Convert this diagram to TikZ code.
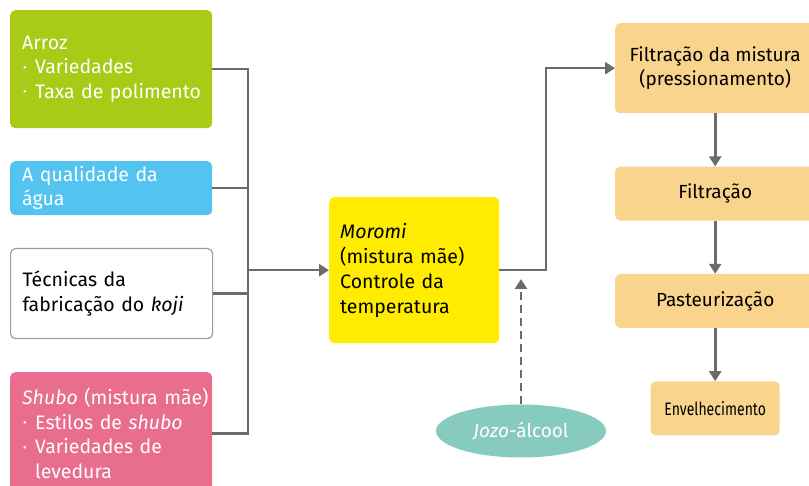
\documentclass[tikz,border=0pt]{standalone}
\usepackage{fontspec}
\setmainfont{Fira Sans}
\usetikzlibrary{arrows.meta,positioning,shapes.geometric}

\definecolor{arrozgreen}{HTML}{A9CA16}
\definecolor{aguablue}{HTML}{53C4EF}
\definecolor{shubopink}{HTML}{E96D8C}
\definecolor{moromiyellow}{HTML}{FFEC00}
\definecolor{stagepeach}{HTML}{F9D48C}
\definecolor{jozoteal}{HTML}{87CABE}
\definecolor{linegray}{HTML}{6B6B6B}
\definecolor{bordergray}{HTML}{9C9C9C}

\newcommand{\dotitem}{\makebox[13pt][l]{\hspace{1pt}\raisebox{2.5pt}{\scalebox{0.55}{•}}}}

\begin{document}
\begin{tikzpicture}
            [x=1pt, y=-1pt, >={Triangle[length=10pt,width=12pt]}, node distance=53pt,
            link/.style={draw=linegray, line width=2.6pt},
            inbox/.style={rectangle, rounded corners=5pt, anchor=north west, align=left,
              minimum width=202pt, text width=178pt, inner xsep=12pt, inner ysep=0pt,
              font=\fontsize{19.5}{24.5}\selectfont},
            stagebox/.style={rectangle, rounded corners=5pt, fill=stagepeach, align=center,
              minimum width=200pt, minimum height=54pt, inner sep=0pt,
              font=\fontsize{19}{24}\selectfont}]

            \useasboundingbox (0,0) rectangle (809,486);

            % ingredientes
            \node[inbox, fill=arrozgreen, text=white, minimum height=118pt] (arroz) at (10,10)
              {Arroz\\\dotitem Variedades\\\mbox{\dotitem Taxa de polimento}};
            \node[inbox, fill=aguablue, text=white, minimum height=54pt] (agua) at (10,161)
              {A qualidade da\\água};
            \node[inbox, fill=white, draw=bordergray, line width=1.2pt, minimum height=90pt] (koji) at (10,248)
              {Técnicas da\\fabricação do \textit{koji}};
            \node[inbox, fill=shubopink, text=white, minimum height=122pt] (shubo) at (10,372)
              {\mbox{\textit{Shubo} (mistura mãe)}\\\dotitem Estilos de \textit{shubo}\\\dotitem Variedades de\\\hspace*{13pt}levedura};

            \node[rectangle, rounded corners=5pt, fill=moromiyellow, anchor=north west, align=left,
              minimum width=170pt, minimum height=146pt, text width=148pt, inner xsep=11pt,
              font=\fontsize{19.5}{25}\selectfont] (moromi) at (329,197)
              {\textit{Moromi}\\(mistura mãe)\\Controle da\\temperatura};

            \node[ellipse, fill=jozoteal, text=white, minimum width=170pt, minimum height=53pt,
              font=\fontsize{19}{24}\selectfont] (jozo) at (521,431) {\textit{Jozo}-álcool};

            % etapas
            \node[stagebox, anchor=north west, minimum height=90pt] (filtmist) at (615,23)
              {Filtração da mistura\\(pressionamento)};
            \node[stagebox] (filtracao) [below = of filtmist] {Filtração};
            \node[stagebox] (pasteur) [below = of filtracao] {Pasteurização};
            \node[stagebox, minimum width=129pt, font=\fontsize{18}{20}\selectfont\addfontfeature{FakeStretch=0.78}] (envelhec) [below = of pasteur] {Envelhecimento};

            \coordinate (bus) at (248,0);
            \coordinate (riser) at (546,0);
            \coordinate (jozotip) at (521,279);

            \draw[link] (arroz.east) -- (arroz.east -| bus) -- (shubo.east -| bus) -- (shubo.east);
            \draw[link] (agua.east) -- (agua.east -| bus);
            \draw[link] (koji.east) -- (koji.east -| bus);
            \draw[link, ->] (bus |- moromi.west) -- (moromi.west);

            \draw[link, ->] (moromi.east) -- (moromi.east -| riser) |- (filtmist.west);
            \draw[link, ->, dash pattern=on 8pt off 5pt] (jozo.north) -- (jozotip);

            \draw[link, ->] (filtmist) -- (filtracao);
            \draw[link, ->] (filtracao) -- (pasteur);
            \draw[link, ->] (pasteur) -- (envelhec);

        \end{tikzpicture}
\end{document}
